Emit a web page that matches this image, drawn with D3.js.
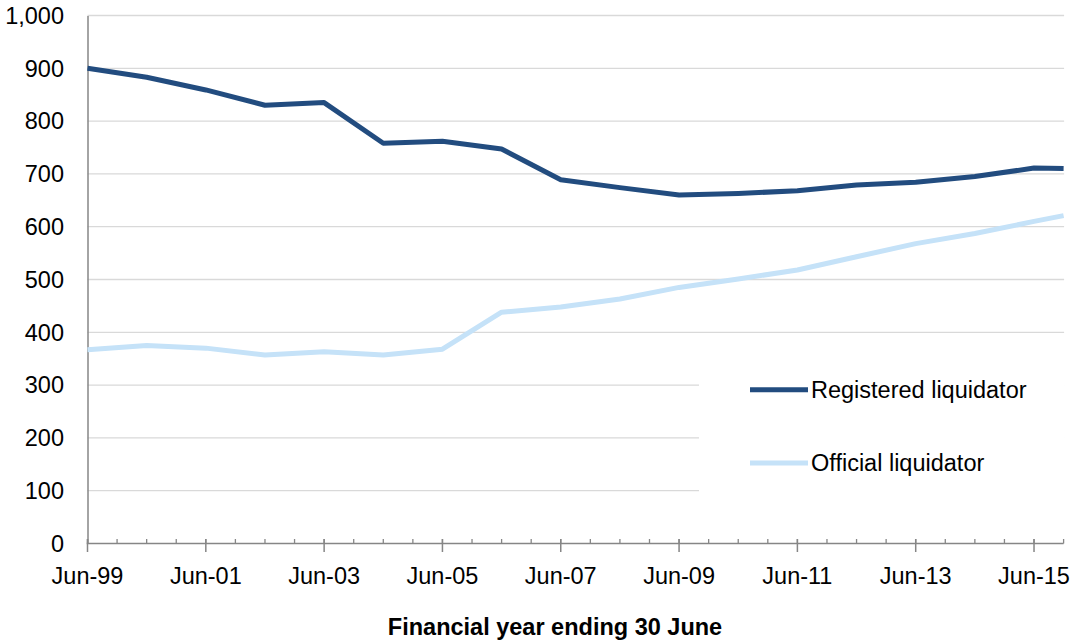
<!DOCTYPE html>
<html>
<head>
<meta charset="utf-8">
<script src="https://cdn.jsdelivr.net/npm/d3@7"></script>
<style>
  html, body { margin: 0; padding: 0; background: #fff; }
  svg { display: block; font-family: "Liberation Sans", Arial, sans-serif; }
</style>
</head>
<body>
<svg id="chart" width="1072" height="641"></svg>
<script>
// Period labels (financial year ending 30 June, last point half-year)
const periods = ["Jun-99","Jun-00","Jun-01","Jun-02","Jun-03","Jun-04","Jun-05","Jun-06",
                 "Jun-07","Jun-08","Jun-09","Jun-10","Jun-11","Jun-12","Jun-13","Jun-14",
                 "Jun-15","Dec-15"];
// Months elapsed since Jun-99 for each period
const monthsFromStart = [0,12,24,36,48,60,72,84,96,108,120,132,144,156,168,180,192,198];

const registered = [900, 883, 859, 830, 835, 758, 762, 747, 689, 674, 660, 663, 668, 679, 684, 695, 711, 710];
const official   = [367, 375, 370, 357, 363, 357, 368, 438, 448, 463, 485, 501, 518, 543, 568, 587, 610, 621];

const yTicks = [0, 100, 200, 300, 400, 500, 600, 700, 800, 900, 1000];
const xTickLabels = ["Jun-99","Jun-01","Jun-03","Jun-05","Jun-07","Jun-09","Jun-11","Jun-13","Jun-15"];
const seriesNames = ["Registered liquidator", "Official liquidator"];
const xTitle = "Financial year ending 30 June";

const colors = ["#224c7f", "#c5e2f8"];
const fontSize = 23.5;

const svg = d3.select("#chart");
const plot = { left: 87.5, right: 1063.6, top: 15.5, bottom: 543.5 };

const x = d3.scaleLinear().domain([0, 198]).range([plot.left, plot.right]);
const y = d3.scaleLinear().domain([0, 1000]).range([plot.bottom, plot.top]);

// Horizontal gridlines
svg.append("g").selectAll("line")
  .data(yTicks.filter(d => d > 0))
  .join("line")
  .attr("x1", plot.left).attr("x2", plot.right + 0.5)
  .attr("y1", d => y(d)).attr("y2", d => y(d))
  .attr("stroke", "#d9d9d9").attr("stroke-width", 1.3);

// Y axis labels
const yAxis = d3.axisLeft(y).tickValues(yTicks).tickFormat(d3.format(",")).tickSize(0).tickPadding(23.5);
const gy = svg.append("g").attr("transform", `translate(${plot.left},0)`).call(yAxis);
gy.select(".domain").attr("stroke", "#868686").attr("stroke-width", 1.5);
gy.selectAll("text").attr("font-size", fontSize).attr("font-family", "Liberation Sans, Arial, sans-serif")
  .attr("fill", "#000").attr("dy", "0.33em");

// X axis: minor ticks every 6 months, major ticks + labels every 2 years
const minorTicks = d3.range(0, 199, 6);
const majorTicks = xTickLabels.map((_, i) => i * 24);

const gx = svg.append("g");
gx.append("line").attr("x1", plot.left - 0.75).attr("x2", plot.right)
  .attr("y1", plot.bottom).attr("y2", plot.bottom)
  .attr("stroke", "#868686").attr("stroke-width", 1.5);
gx.selectAll("line.minor").data(minorTicks).join("line").attr("class", "minor")
  .attr("x1", d => x(d)).attr("x2", d => x(d))
  .attr("y1", plot.bottom - 4.5).attr("y2", plot.bottom)
  .attr("stroke", "#868686").attr("stroke-width", 1.3);
gx.selectAll("line.major").data(majorTicks).join("line").attr("class", "major")
  .attr("x1", d => x(d)).attr("x2", d => x(d))
  .attr("y1", plot.bottom - 4.5).attr("y2", plot.bottom + 8.5)
  .attr("stroke", "#868686").attr("stroke-width", 1.5);
gx.selectAll("text").data(majorTicks).join("text")
  .attr("x", d => x(d)).attr("y", 584)
  .attr("text-anchor", "middle").attr("font-size", fontSize).attr("fill", "#000")
  .text((d, i) => xTickLabels[i]);

// X axis title
svg.append("text").attr("x", 555).attr("y", 635)
  .attr("text-anchor", "middle").attr("font-size", fontSize).attr("font-weight", "bold")
  .attr("fill", "#000").text(xTitle);

// Series lines
const line = d3.line().x((d, i) => x(monthsFromStart[i])).y(d => y(d));
[registered, official].forEach((vals, k) => {
  svg.append("path").datum(vals)
    .attr("d", line)
    .attr("fill", "none")
    .attr("stroke", colors[k])
    .attr("stroke-width", 5)
    .attr("stroke-linejoin", "round");
});

// Legend with white background
const legend = svg.append("g");
legend.append("rect").attr("x", 699).attr("y", 348).attr("width", plot.right + 1 - 699).attr("height", 160)
  .attr("fill", "#fff");
const legendY = [389.7, 463];
seriesNames.forEach((name, k) => {
  legend.append("line").attr("x1", 750).attr("x2", 808)
    .attr("y1", legendY[k]).attr("y2", legendY[k])
    .attr("stroke", colors[k]).attr("stroke-width", 5);
  legend.append("text").attr("x", 811).attr("y", legendY[k]).attr("dy", "0.35em")
    .attr("font-size", fontSize).attr("fill", "#000").text(name);
});
</script>
</body>
</html>
